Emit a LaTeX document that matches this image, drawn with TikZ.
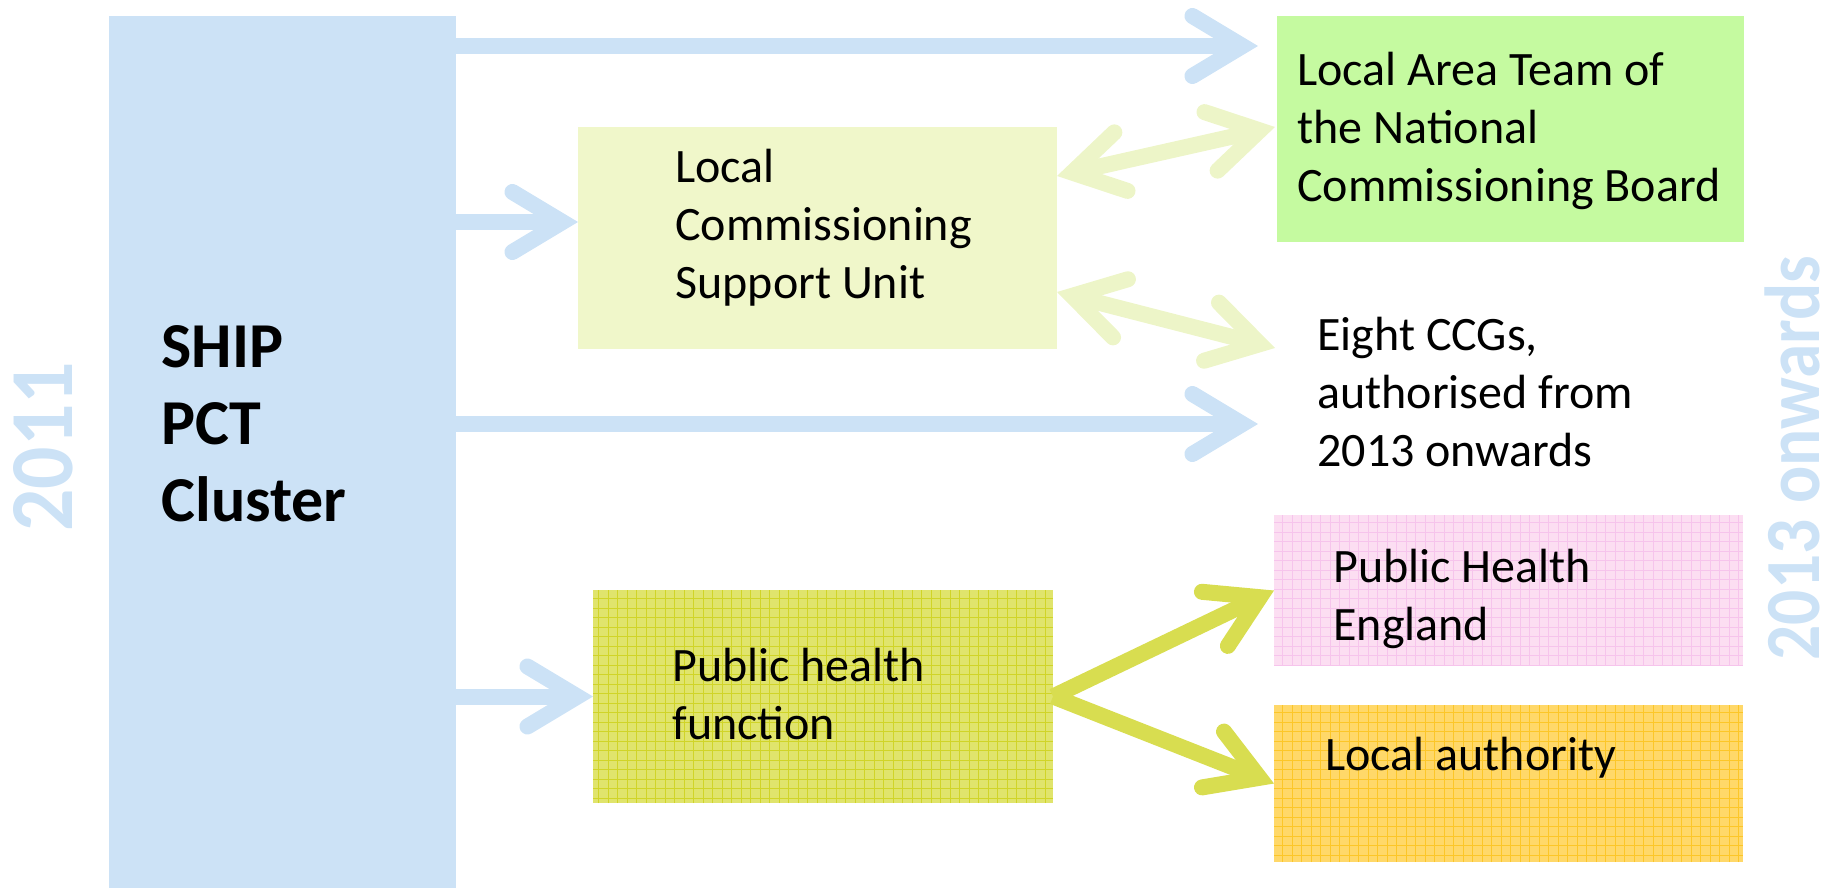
\documentclass[tikz,border=0pt]{standalone}
\usepackage{fontspec}
\setmainfont{Carlito}
\usepackage{graphicx}
\usetikzlibrary{arrows.meta,fit,calc}
\definecolor{shipblue}{RGB}{204,226,246}
\definecolor{lcsufill}{RGB}{240,247,202}
\definecolor{latfill}{RGB}{197,250,160}
\definecolor{phffill}{RGB}{224,228,108}
\definecolor{phfgrid}{RGB}{208,212,40}
\definecolor{phefill}{RGB}{252,222,242}
\definecolor{phegrid}{RGB}{246,196,236}
\definecolor{lafill}{RGB}{255,216,105}
\definecolor{lagrid}{RGB}{252,198,40}
\definecolor{palearr}{RGB}{237,245,200}
\definecolor{olivearr}{RGB}{216,221,80}
\begin{document}
\begin{tikzpicture}[x=0.5pt,y=-0.5pt,
  box/.style={inner sep=0pt, outer sep=0pt, draw=none},
  txt/.style={font=\fontsize{24}{29}\selectfont, align=left, inner sep=0pt, anchor=west},
  boldtxt/.style={font=\fontsize{32}{38.5}\selectfont\bfseries, align=left, inner sep=0pt, anchor=west},
  yeartxt/.style={text=shipblue, inner sep=0pt, rotate=90},
  bluearr/.style={draw=shipblue, line width=8pt, -{Straight Barb[length=25pt,width=30pt,line cap=round,line join=miter]}},
  palearr/.style={draw=palearr, line width=8pt, {Straight Barb[length=25pt,width=30pt,line cap=round,line join=miter]}-{Straight Barb[length=25pt,width=30pt,line cap=round,line join=miter]}},
  olivearr/.style={draw=olivearr, line width=8pt, -{Straight Barb[length=25pt,width=30pt,line cap=round,line join=miter]}},
  gridlines/.style={line width=0.45pt}
]
\useasboundingbox (0,0) rectangle (1827,888);

% boxes
\node[box, fill=shipblue, fit={(109,16) (456,888)}] (ship) {};
\node[box, fill=lcsufill, fit={(578,127) (1057,349)}] (lcsu) {};
\node[box, fill=latfill, fit={(1277,16) (1744,242)}] (lat) {};
\node[box, fill=phffill, fit={(593,590) (1053,803)}] (phf) {};
\node[box, fill=phefill, fit={(1274,515) (1743,666)}] (phe) {};
\node[box, fill=lafill, fit={(1274,705) (1743,862)}] (la) {};

% textures
\draw[gridlines, draw=phfgrid, step=4.75pt] (phf.north west) grid (phf.south east);
\draw[gridlines, draw=phegrid, step=4.75pt] (phe.north west) grid (phe.south east);
\draw[gridlines, draw=lagrid, step=4.75pt] (la.north west) grid (la.south east);

% texts
\node[boldtxt] (shiptxt) at (161,424) {SHIP\\PCT\\Cluster};
\node[txt] (lcsutxt) at (675,228) {Local\\Commissioning\\Support Unit};
\node[txt] (lattxt) at (1297,131) {Local Area Team of\\the National\\Commissioning Board};
\node[txt] (ccg) at (1317,392) {Eight CCGs,\\authorised from\\2013 onwards};
\node[txt] (phftxt) at (672,694) {Public health\\function};
\node[txt] (phetxt) at (1333,599) {Public Health\\England};
\node[txt] (latxt) at (1325,758) {Local authority};

\node[yeartxt, font=\fontsize{45}{45}\selectfont\bfseries] (y2011) at (43,447) {\scalebox{0.93}[1]{2011}};
\node[yeartxt, font=\fontsize{39}{39}\selectfont\bfseries] (y2013) at (1792,458) {\scalebox{0.89}[1]{2013 onwards}};

% connector end points
\coordinate (t1) at (1258,46);
\coordinate (t2) at (578,222);
\coordinate (t3) at (1258,424);
\coordinate (p1) at (1057,176);
\coordinate (q1) at (1275,127);
\coordinate (p2) at (1057,292);
\coordinate (q2) at (1275,348);

% connectors
\draw[bluearr] (ship.east |- t1) -- (t1);
\draw[bluearr] (ship.east |- t2) -- (t2);
\draw[bluearr] (ship.east |- t3) -- (t3);
\draw[bluearr] (ship.east |- phf.west) -- (phf.west);
\draw[palearr] (p1) -- (q1);
\draw[palearr] (p2) -- (q2);
\draw[olivearr] (phf.east) -- (phe.west);
\draw[olivearr] (phf.east) -- (la.west);
\end{tikzpicture}
\end{document}
